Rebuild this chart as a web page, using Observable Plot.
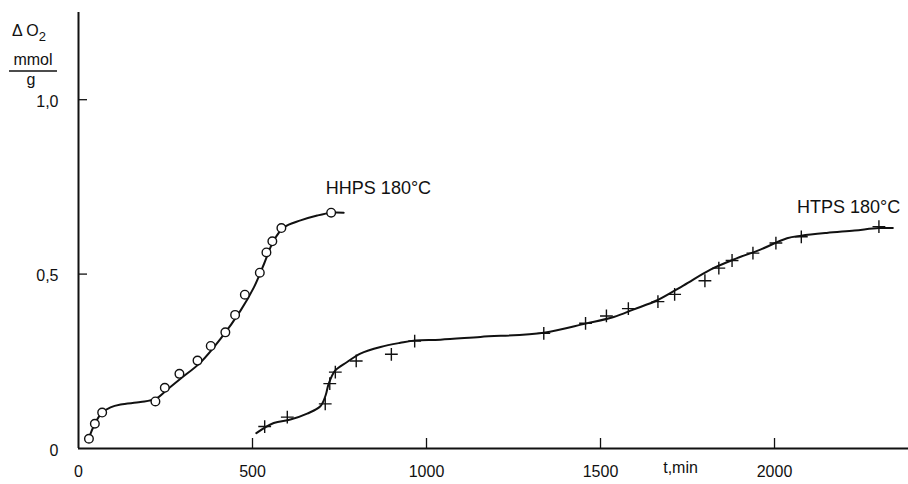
<!DOCTYPE html>
<html>
<head>
<meta charset="utf-8">
<script src="https://cdn.jsdelivr.net/npm/d3@7"></script>
<script src="https://cdn.jsdelivr.net/npm/@observablehq/plot@0.6"></script>
<style>
  html, body { margin: 0; padding: 0; background: #fff; }
  #chart { width: 908px; height: 484px; }
</style>
</head>
<body>
<div id="chart"></div>
<script>
// Measured points (symbols)
const hhpsT = [30, 47, 68, 221, 248, 290, 342, 380, 422, 450, 478, 521, 540, 557, 583, 726];
const hhpsY = [0.028, 0.071, 0.103, 0.135, 0.174, 0.214, 0.252, 0.294, 0.333, 0.383, 0.441, 0.504, 0.562, 0.594, 0.632, 0.676];
const htpsT = [535, 600, 709, 722, 738, 798, 899, 966, 1337, 1457, 1517, 1580, 1665, 1713, 1800, 1840, 1878, 1938, 2004, 2077, 2300];
const htpsY = [0.063, 0.090, 0.128, 0.186, 0.219, 0.251, 0.270, 0.308, 0.330, 0.359, 0.380, 0.401, 0.421, 0.442, 0.481, 0.517, 0.539, 0.560, 0.589, 0.607, 0.636];

// Fitted curves
const hhpsCurveT = [27, 47, 68, 92, 121, 178, 221, 255, 293, 351, 408, 466, 504, 533, 561, 590, 638, 686, 726, 762];
const hhpsCurveY = [0.022, 0.071, 0.103, 0.118, 0.126, 0.133, 0.142, 0.169, 0.200, 0.247, 0.314, 0.396, 0.462, 0.529, 0.596, 0.634, 0.654, 0.668, 0.676, 0.676];
const htpsCurveT = [511, 561, 609, 657, 695, 710, 719, 738, 772, 810, 868, 925, 968, 1040, 1155, 1337, 1457, 1538, 1596, 1663, 1739, 1816, 1883, 1961, 2036, 2077, 2150, 2230, 2300, 2340];
const htpsCurveY = [0.044, 0.073, 0.083, 0.100, 0.121, 0.152, 0.186, 0.224, 0.248, 0.272, 0.291, 0.303, 0.310, 0.312, 0.320, 0.332, 0.358, 0.377, 0.399, 0.425, 0.468, 0.513, 0.542, 0.571, 0.603, 0.610, 0.618, 0.625, 0.632, 0.632];

// Axis ticks and labels
const xTicks = [0, 500, 1000, 1500, 2000];
const yTicks = [0, 0.5, 1.0];
const seriesLabels = ["HHPS 180°C", "HTPS 180°C"];
const labelT = [862, 2213];
const labelY = [0.745, 0.691];
const xAxisTitle = "t,min";
const yAxisTitle = ["Δ O", "2", "mmol", "g"];

const hhpsPts = hhpsT.map((t, i) => ({t, y: hhpsY[i]}));
const htpsPts = htpsT.map((t, i) => ({t, y: htpsY[i]}));
const hhpsCurve = hhpsCurveT.map((t, i) => ({t, y: hhpsCurveY[i]}));
const htpsCurve = htpsCurveT.map((t, i) => ({t, y: htpsCurveY[i]}));
const labels = seriesLabels.map((s, i) => ({s, t: labelT[i], y: labelY[i]}));

const FONT = "'Liberation Sans', Arial, sans-serif";
const W = 908, H = 484, ML = 78, MR = 0, MT = 12, MB = 36;

const svg = Plot.plot({
  width: W,
  height: H,
  marginLeft: ML,
  marginRight: MR,
  marginTop: MT,
  marginBottom: MB,
  style: {fontFamily: FONT, fontSize: "16px", color: "#111", background: "#fff", overflow: "visible"},
  x: {domain: [0, 2385], label: null},
  y: {domain: [0, 1.25], label: null},
  marks: [
    Plot.axisX({ticks: xTicks, tickSize: 0, tickPadding: 17, fontSize: 16, tickFormat: d => String(d)}),
    Plot.axisY({ticks: yTicks, tickSize: 0, tickPadding: 20, fontSize: 16, dy: 2,
      tickFormat: d => d === 0 ? "0" : d.toFixed(1).replace(".", ",")}),
    Plot.tickX(xTicks.filter(d => d > 0), {x: d => d, insetTop: H - MT - MB - 10, stroke: "#111", strokeWidth: 1.3}),
    Plot.tickY(yTicks.filter(d => d > 0), {y: d => d, insetRight: W - ML - MR - 9, stroke: "#111", strokeWidth: 1.3}),
    Plot.ruleX([0], {stroke: "#111", strokeWidth: 2}),
    Plot.ruleY([0], {stroke: "#111", strokeWidth: 2}),
    Plot.line(hhpsCurve, {x: "t", y: "y", curve: "catmull-rom", stroke: "#111", strokeWidth: 2}),
    Plot.line(htpsCurve, {x: "t", y: "y", curve: "catmull-rom", stroke: "#111", strokeWidth: 2}),
    Plot.dot(hhpsPts, {x: "t", y: "y", r: 4.3, stroke: "#111", fill: "#fff", strokeWidth: 1.4}),
    Plot.dot(htpsPts, {x: "t", y: "y", symbol: "plus", r: 4.2, stroke: "#111", strokeWidth: 1.4}),
    Plot.text(labels, {x: "t", y: "y", text: "s", fontSize: 18, fill: "#111"}),
    Plot.text([xAxisTitle], {x: 1730, frameAnchor: "bottom", dy: 24, fontSize: 16, fill: "#111"})
  ]
});

// Y-axis title in the left margin
const g = d3.select(svg).append("g")
  .attr("font-family", FONT).attr("fill", "#111").attr("text-anchor", "middle");
const t1 = g.append("text").attr("x", 29).attr("y", 36).attr("font-size", 16);
t1.append("tspan").text(yAxisTitle[0]);
t1.append("tspan").attr("font-size", 13).attr("dy", 5).text(yAxisTitle[1]);
g.append("text").attr("x", 33).attr("y", 65).attr("font-size", 16).text(yAxisTitle[2]);
g.append("line").attr("x1", 9).attr("x2", 57).attr("y1", 71).attr("y2", 71)
  .attr("stroke", "#111").attr("stroke-width", 1.5);
g.append("text").attr("x", 31).attr("y", 85).attr("font-size", 16).text(yAxisTitle[3]);

document.getElementById("chart").appendChild(svg);
</script>
</body>
</html>
